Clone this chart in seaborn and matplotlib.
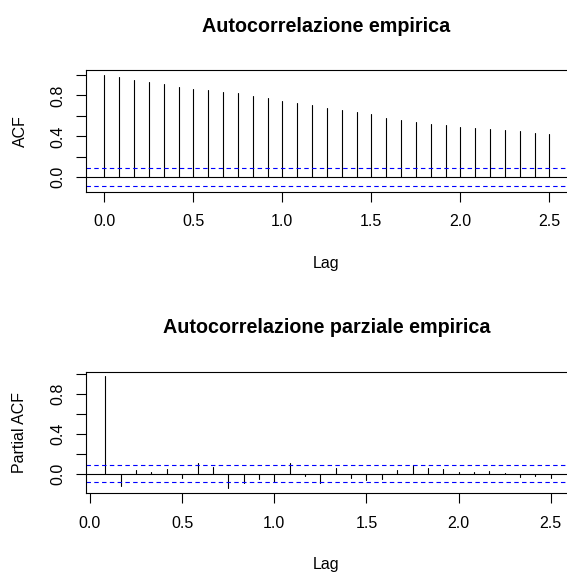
import numpy as np
import pandas as pd
import matplotlib
matplotlib.use("Agg")
import matplotlib.pyplot as plt
import seaborn as sns

# ---- data ----
frequency = 12
acf_lag_months = list(range(0, 31))
acf_values = [1.0, 0.982, 0.950, 0.930, 0.911, 0.881, 0.862, 0.852, 0.833, 0.820,
              0.793, 0.771, 0.741, 0.722, 0.702, 0.673, 0.654, 0.634, 0.615, 0.582,
              0.563, 0.543, 0.524, 0.514, 0.491, 0.481, 0.472, 0.462, 0.452, 0.433,
              0.423]
pacf_lag_months = list(range(1, 31))
pacf_values = [0.98, -0.127, 0.033, 0.020, 0.047, -0.047, 0.107, 0.067, -0.147, -0.094,
               -0.057, -0.084, 0.104, -0.023, -0.094, 0.057, -0.047, -0.067, -0.057, 0.033,
               0.084, 0.057, 0.047, 0.013, 0.013, 0.027, 0.003, -0.037, -0.023, -0.047]
conf_limit = 0.087
x_ticks = [0.0, 0.5, 1.0, 1.5, 2.0, 2.5]
x_tick_labels = ["0.0", "0.5", "1.0", "1.5", "2.0", "2.5"]
y_ticks = [0.0, 0.2, 0.4, 0.6, 0.8, 1.0]
y_tick_labels = ["0.0", "", "0.4", "", "0.8", ""]
titles = ["Autocorrelazione empirica", "Autocorrelazione parziale empirica"]
y_labels = ["ACF", "Partial ACF"]
x_label = "Lag"

sns.set_theme(style="white")
plt.rcParams['font.family'] = ['Liberation Sans', 'DejaVu Sans']

W, H = 567, 572
fig = plt.figure(figsize=(W / 100, H / 100), dpi=100)


def stems(lag_months, values):
    rows = []
    for m, v in zip(lag_months, values):
        lag = m / frequency
        rows.append({"lag": lag, "value": 0.0, "unit": m})
        rows.append({"lag": lag, "value": v, "unit": m})
    return pd.DataFrame(rows)


def panel(box, xlim, ylim, df, title, ylabel, title_base, xlab_base):
    left, top, right, bottom = box
    ax = fig.add_axes([left / W, 1 - bottom / H, (right - left) / W, (bottom - top) / H])
    sns.lineplot(data=df, x="lag", y="value", units="unit", estimator=None,
                 color="black", lw=0.8, ax=ax, legend=False)
    ax.axhline(0, color="black", lw=0.8)
    for c in (conf_limit, -conf_limit):
        ax.axhline(c, color="#0000ff", lw=0.8, ls=(0, (4, 3)))
    ax.set_xlim(*xlim)
    ax.set_ylim(*ylim)
    ax.set_xlabel("")
    ax.set_ylabel("")
    ax.set_xticks(x_ticks)
    ax.set_xticklabels(x_tick_labels)
    ax.set_yticks(y_ticks)
    ax.set_yticklabels(y_tick_labels)
    for lbl in ax.get_yticklabels():
        lbl.set_rotation(90)
        lbl.set_va("center")
    ax.tick_params(axis="both", which="both", direction="out", length=7.5, width=0.8,
                   color="black", labelsize=11.5, labelcolor="black", bottom=True, left=True)
    ax.tick_params(axis="x", pad=8.5)
    ax.tick_params(axis="y", pad=7.5)
    for s in ["left", "top", "bottom"]:
        ax.spines[s].set_color("black")
        ax.spines[s].set_linewidth(0.8)
    ax.spines["right"].set_visible(False)
    cx = 326.5
    fig.text(cx / W, 1 - title_base / H, title, ha="center", va="baseline",
             fontsize=14.2, fontweight="bold", color="black")
    fig.text(cx / W, 1 - xlab_base / H, x_label, ha="center", va="baseline",
             fontsize=11.5, color="black")
    fig.text(20 / W, 1 - (top + bottom) / 2 / H, ylabel, ha="center", va="center",
             rotation=90, fontsize=11.5, color="black")
    return ax


panel((86, 70, 567, 191.7), (-0.103, 2.599), (-0.140, 1.047),
      stems(acf_lag_months, acf_values), titles[0], y_labels[0], 31.7, 268.3)
panel((86, 372, 567, 493.3), (-0.0217, 2.588), (-0.197, 1.021),
      stems(pacf_lag_months, pacf_values), titles[1], y_labels[1], 333.3, 569.5)

fig.savefig("out.png", dpi=100)
